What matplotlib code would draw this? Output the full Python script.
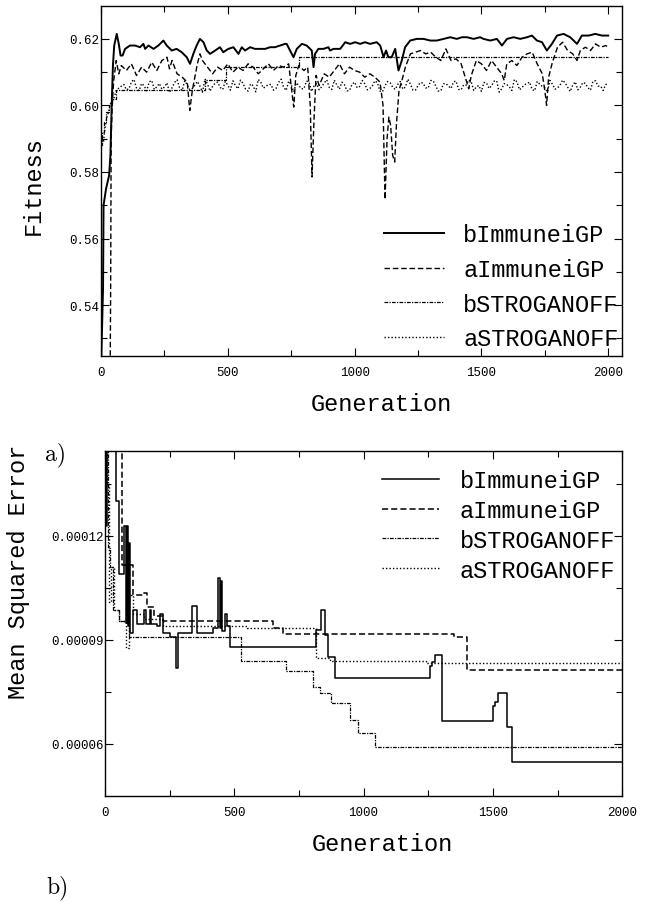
import matplotlib
matplotlib.use("Agg")
import matplotlib.pyplot as plt
import numpy as np
from matplotlib.ticker import FixedLocator, FormatStrFormatter

MONO = "Liberation Mono"

# ---- a) fitness -------------------------------------------------------
bimm_gen = [0, 8, 10, 20, 32, 37, 42, 47, 52, 62, 70, 77, 85, 95, 114, 134, 154, 167,
            174, 187, 207, 226, 246, 259, 279, 298, 318, 338, 351, 364, 377, 390, 404,
            417, 430, 450, 469, 482, 502, 522, 542, 555, 568, 588, 607, 627, 647, 667,
            686, 706, 726, 732, 752, 759, 772, 792, 811, 831, 838, 844, 857, 877, 897,
            903, 917, 943, 963, 982, 1002, 1022, 1041, 1061, 1087, 1101, 1114, 1124,
            1133, 1146, 1160, 1173, 1186, 1199, 1219, 1245, 1272, 1298, 1324, 1351,
            1377, 1403, 1423, 1443, 1469, 1495, 1508, 1535, 1561, 1581, 1601, 1627,
            1653, 1680, 1699, 1719, 1739, 1758, 1778, 1798, 1824, 1850, 1877, 1896,
            1923, 1949, 1975, 2000]
bimm_fit = [0.521, 0.545, 0.570, 0.575, 0.579, 0.585, 0.600, 0.612, 0.618, 0.6215,
            0.6185, 0.615, 0.615, 0.617, 0.618, 0.618, 0.6175, 0.6185, 0.617, 0.618,
            0.617, 0.618, 0.6195, 0.618, 0.6165, 0.617, 0.616, 0.6145, 0.6125, 0.6155,
            0.618, 0.620, 0.619, 0.6165, 0.6155, 0.6165, 0.6175, 0.616, 0.617, 0.6175,
            0.6155, 0.6175, 0.6165, 0.6175, 0.617, 0.617, 0.617, 0.6175, 0.6175, 0.618,
            0.6185, 0.6185, 0.6155, 0.6145, 0.617, 0.6185, 0.618, 0.6165, 0.6115, 0.6155,
            0.617, 0.617, 0.6175, 0.6165, 0.617, 0.617, 0.619, 0.6185, 0.619, 0.6185,
            0.619, 0.6185, 0.619, 0.618, 0.6145, 0.6165, 0.6145, 0.6145, 0.617, 0.6105,
            0.6135, 0.6175, 0.6195, 0.620, 0.620, 0.6195, 0.6195, 0.620, 0.6205, 0.620,
            0.6205, 0.6205, 0.620, 0.6205, 0.620, 0.6195, 0.620, 0.618, 0.620, 0.6205,
            0.620, 0.6205, 0.621, 0.6195, 0.619, 0.6165, 0.6185, 0.621, 0.6215, 0.6205,
            0.6185, 0.621, 0.621, 0.6215, 0.621, 0.621]

aimm_gen = [0, 36, 38, 40, 44, 50, 60, 70, 80, 100, 120, 140, 160, 180, 200, 220, 240,
            260, 270, 280, 300, 320, 340, 350, 360, 380, 390, 400, 420, 440, 460, 480,
            500, 520, 540, 560, 580, 600, 620, 640, 660, 680, 700, 720, 740, 755, 760,
            768, 780, 800, 815, 825, 832, 840, 848, 860, 880, 900, 920, 940, 960, 980,
            1000, 1020, 1040, 1060, 1080, 1100, 1112, 1120, 1128, 1135, 1142, 1150, 1158,
            1165, 1175, 1190, 1200, 1220, 1240, 1260, 1280, 1300, 1320, 1340, 1360, 1380,
            1400, 1420, 1440, 1450, 1460, 1480, 1500, 1520, 1540, 1560, 1580, 1590, 1600,
            1620, 1640, 1660, 1680, 1700, 1720, 1740, 1750, 1757, 1765, 1780, 1800, 1820,
            1840, 1860, 1877, 1890, 1910, 1930, 1950, 1970, 1990, 2000]
aimm_fit = [0.52, 0.52, 0.545, 0.59, 0.600, 0.6075, 0.6135, 0.6095, 0.612, 0.6105,
            0.6125, 0.609, 0.6115, 0.610, 0.613, 0.6105, 0.6135, 0.6145, 0.611, 0.6135,
            0.6095, 0.6085, 0.607, 0.5985, 0.6045, 0.6125, 0.6155, 0.6135, 0.6115, 0.6095,
            0.6115, 0.6105, 0.6125, 0.610, 0.6115, 0.6105, 0.6125, 0.6115, 0.6095, 0.611,
            0.6125, 0.6105, 0.612, 0.6115, 0.6125, 0.6025, 0.5995, 0.609, 0.612, 0.6105,
            0.6115, 0.600, 0.5785, 0.596, 0.609, 0.606, 0.6095, 0.6085, 0.6105, 0.6125,
            0.6095, 0.6115, 0.6105, 0.610, 0.6085, 0.6095, 0.6085, 0.607, 0.600, 0.5718,
            0.590, 0.5965, 0.594, 0.585, 0.583, 0.5945, 0.6045, 0.6085, 0.6115, 0.6155,
            0.616, 0.6165, 0.6155, 0.616, 0.6145, 0.6135, 0.617, 0.6135, 0.614, 0.6125,
            0.6075, 0.605, 0.609, 0.6135, 0.6125, 0.6105, 0.6135, 0.6115, 0.6095, 0.6075,
            0.6125, 0.6135, 0.612, 0.6145, 0.6155, 0.616, 0.6125, 0.6095, 0.6045, 0.600,
            0.6085, 0.613, 0.6175, 0.619, 0.6165, 0.6155, 0.6135, 0.6165, 0.6175, 0.6165,
            0.6185, 0.6175, 0.618, 0.6175]

bstr_gen = [0, 5, 12, 20, 30, 45, 60, 410, 494, 780, 2000]
bstr_fit = [0.588, 0.592, 0.595, 0.598, 0.600, 0.602, 0.6045, 0.6075, 0.6115, 0.6145, 0.6145]

astr_gen_early = [0, 5, 10, 15, 20, 25, 30, 35, 40, 50, 60, 70]
astr_fit_early = [0.586, 0.590, 0.589, 0.593, 0.595, 0.597, 0.598, 0.600, 0.601, 0.602,
                  0.6045, 0.6052]
# values read every 20 generations from 80 ...
astr_fit_even = [
    0.6058, 0.6047, 0.6071, 0.6052, 0.6066, 0.6044, 0.6075, 0.6056, 0.6049, 0.6068,
    0.6053, 0.6077, 0.6045, 0.6062, 0.6051, 0.6072, 0.6040, 0.6064, 0.6057, 0.6070,
    0.6048, 0.6061, 0.6074, 0.6050, 0.6066, 0.6043, 0.6059, 0.6078, 0.6052, 0.6063,
    0.6046, 0.6069, 0.6055, 0.6073, 0.6041, 0.6060, 0.6050, 0.6071, 0.6058, 0.6047,
    0.6067, 0.6054, 0.6076, 0.6049, 0.6062, 0.6045, 0.6070, 0.6057, 0.6065, 0.6051,
    0.6074, 0.6043, 0.6060, 0.6068, 0.6048, 0.6072, 0.6055, 0.6064, 0.6046, 0.6069,
    0.6053, 0.6075, 0.6058, 0.6044, 0.6066, 0.6051, 0.6073, 0.6047, 0.6061, 0.6070,
    0.6056, 0.6042, 0.6068, 0.6059, 0.6074, 0.6050, 0.6063, 0.6045, 0.6071, 0.6054,
    0.6066, 0.6048, 0.6072, 0.6057, 0.6040, 0.6064, 0.6052, 0.6076, 0.6055, 0.6061,
    0.6047, 0.6069, 0.6053, 0.6073, 0.6058, 0.6045, 0.6064]
# ... and in between, from 90
astr_fit_odd = [
    0.6063, 0.6050, 0.6078, 0.6044, 0.6059, 0.6071, 0.6048, 0.6066, 0.6055, 0.6039,
    0.6069, 0.6052, 0.6074, 0.6047, 0.6061, 0.6058, 0.6080, 0.6043, 0.6067, 0.6054,
    0.6072, 0.6046, 0.6060, 0.6076, 0.6049, 0.6065, 0.6041, 0.6070, 0.6057, 0.6063,
    0.6051, 0.6079, 0.6045, 0.6062, 0.6068, 0.6050, 0.6073, 0.6042, 0.6066, 0.6056,
    0.6077, 0.6048, 0.6061, 0.6070, 0.6044, 0.6064, 0.6053, 0.6075, 0.6047, 0.6059,
    0.6068, 0.6041, 0.6072, 0.6055, 0.6063, 0.6049, 0.6079, 0.6046, 0.6060, 0.6067,
    0.6052, 0.6074, 0.6043, 0.6065, 0.6058, 0.6071, 0.6048, 0.6062, 0.6077, 0.6045,
    0.6060, 0.6069, 0.6051, 0.6073, 0.6040, 0.6066, 0.6056, 0.6078, 0.6047, 0.6062,
    0.6070, 0.6044, 0.6064, 0.6053, 0.6075, 0.6049, 0.6061, 0.6068, 0.6042, 0.6071,
    0.6055, 0.6066, 0.6046, 0.6074, 0.6058, 0.6063]

mid_gen = np.array(list(range(80, 2001, 20)) + list(range(90, 1991, 20)))
mid_fit = np.array(astr_fit_even + astr_fit_odd)
order = np.argsort(mid_gen)
astr_gen = np.concatenate([astr_gen_early, mid_gen[order]])
astr_fit = np.concatenate([astr_fit_early, mid_fit[order]])

# ---- b) mean squared error (best so far, step curves) -----------------
bimm_mse_gen = [0, 4, 6, 43, 55, 75, 80, 84, 88, 92, 96, 110, 122, 150, 157, 172, 178,
                200, 213, 226, 251, 275, 284, 335, 355, 419, 438, 444, 447, 451, 464,
                472, 484, 815, 835, 851, 861, 889, 1257, 1266, 1277, 1302, 1500, 1510,
                1521, 1554, 1574, 2000]
bimm_mse = [16e-5, 12.3e-5, 16e-5, 13e-5, 10.9e-5, 12.3e-5, 9.5e-5, 12.3e-5, 9.4e-5,
            11.8e-5, 9.2e-5, 9.87e-5, 9.46e-5, 9.87e-5, 9.46e-5, 9.87e-5, 9.46e-5,
            9.4e-5, 9.75e-5, 9.2e-5, 9.09e-5, 8.19e-5, 9.2e-5, 9.99e-5, 9.21e-5, 9.35e-5,
            10.8e-5, 9.35e-5, 10.7e-5, 9.25e-5, 9.75e-5, 9.4e-5, 8.79e-5, 9.3e-5, 9.87e-5,
            9.15e-5, 8.5e-5, 7.9e-5, 8.24e-5, 8.35e-5, 8.58e-5, 6.67e-5, 7.09e-5, 7.2e-5,
            7.47e-5, 6.48e-5, 5.48e-5, 5.48e-5]

aimm_mse_gen = [0, 64, 110, 148, 161, 190, 226, 650, 690, 1351, 1401, 2000]
aimm_mse = [16e-5, 11.17e-5, 10.3e-5, 10.35e-5, 9.95e-5, 9.7e-5, 9.56e-5, 9.35e-5,
            9.17e-5, 9.08e-5, 8.14e-5, 8.14e-5]

bstr_mse_gen = [0, 12, 20, 30, 55, 93, 526, 700, 803, 830, 872, 946, 977, 1046, 2000]
bstr_mse = [16e-5, 11.65e-5, 11.1e-5, 9.87e-5, 9.56e-5, 9.08e-5, 8.39e-5, 8.1e-5,
            7.64e-5, 7.47e-5, 7.18e-5, 6.7e-5, 6.32e-5, 5.91e-5, 5.91e-5]

astr_mse_gen = [0, 8, 14, 22, 35, 55, 82, 93, 110, 150, 225, 550, 815, 870, 1240, 2000]
astr_mse = [16e-5, 13.5e-5, 10.1e-5, 11.1e-5, 9.87e-5, 9.56e-5, 8.77e-5, 10.3e-5,
            9.75e-5, 9.6e-5, 9.4e-5, 9.33e-5, 8.48e-5, 8.4e-5, 8.34e-5, 8.34e-5]

labels = ["bImmuneiGP", "aImmuneiGP", "bSTROGANOFF", "aSTROGANOFF"]

styles = [dict(linestyle="-"),
          dict(linestyle=(0, (4, 2))),
          dict(linestyle=(0, (3, 1, 1, 1))),
          dict(linestyle=(0, (1, 1.5)))]

fig = plt.figure(figsize=(6.69, 9.03), dpi=100)
ax1 = fig.add_axes([0.151, 0.6047, 0.779, 0.3876])
ax2 = fig.add_axes([0.157, 0.1174, 0.773, 0.3821])

ax1.plot(bimm_gen, bimm_fit, color="black", lw=1.4, **styles[0])
ax1.plot(aimm_gen, aimm_fit, color="black", lw=1.0, **styles[1])
ax1.plot(bstr_gen, bstr_fit, color="black", lw=0.9, drawstyle="steps-post", **styles[2])
ax1.plot(astr_gen, astr_fit, color="black", lw=1.0, **styles[3])

ax2.plot(bimm_mse_gen, bimm_mse, color="black", lw=1.1, drawstyle="steps-post", **styles[0])
ax2.plot(aimm_mse_gen, aimm_mse, color="black", lw=1.1, drawstyle="steps-post", **styles[1])
ax2.plot(bstr_mse_gen, bstr_mse, color="black", lw=0.9, drawstyle="steps-post", **styles[2])
ax2.plot(astr_mse_gen, astr_mse, color="black", lw=1.0, drawstyle="steps-post", **styles[3])

ax1.set_xlim(0, 2055)
ax1.set_ylim(0.5247, 0.6299)
ax2.set_xlim(0, 2000)
ax2.set_ylim(4.5e-5, 14.45e-5)

ax1.yaxis.set_major_locator(FixedLocator([0.54, 0.56, 0.58, 0.60, 0.62]))
ax1.yaxis.set_minor_locator(FixedLocator([0.53, 0.55, 0.57, 0.59, 0.61]))
ax1.yaxis.set_major_formatter(FormatStrFormatter("%.2f"))
ax2.yaxis.set_major_locator(FixedLocator([6e-5, 9e-5, 12e-5]))
ax2.yaxis.set_minor_locator(FixedLocator([7.5e-5, 10.5e-5, 13.5e-5]))
ax2.yaxis.set_major_formatter(FormatStrFormatter("%.5f"))
for ax in (ax1, ax2):
    ax.xaxis.set_major_locator(FixedLocator([0, 500, 1000, 1500, 2000]))
    ax.xaxis.set_minor_locator(FixedLocator([250, 750, 1250, 1750]))
    ax.xaxis.set_major_formatter(FormatStrFormatter("%d"))
    ax.tick_params(which="both", direction="in", top=True, right=True, width=0.8)
    ax.tick_params(which="major", length=6)
    ax.tick_params(which="minor", length=4)
    ax.tick_params(axis="x", pad=7)
    ax.tick_params(axis="y", pad=1)
    for lab in ax.get_xticklabels() + ax.get_yticklabels():
        lab.set_fontfamily(MONO)
        lab.set_fontsize(9)
    for sp in ax.spines.values():
        sp.set_linewidth(1.0)

lab_font = dict(fontfamily=MONO, fontsize=17)
ax1.set_xlabel("Generation", **lab_font)
ax1.set_ylabel("Fitness", **lab_font)
ax1.xaxis.set_label_coords(0.537, -0.103)
ax1.yaxis.set_label_coords(-0.1075, 0.491)
ax2.set_xlabel("Generation", **lab_font)
ax2.set_ylabel("Mean Squared Error", **lab_font)
ax2.xaxis.set_label_coords(0.536, -0.104)
ax2.yaxis.set_label_coords(-0.145, 0.652)

leg_prop = dict(family=MONO, size=17)
handles1 = ax1.get_lines()
ax1.legend(handles1, labels, loc="upper left", bbox_to_anchor=(384 / 669, 1 - 224 / 903),
           bbox_transform=fig.transFigure, frameon=False, prop=leg_prop,
           handlelength=2.55, handletextpad=0.8, labelspacing=0.5,
           borderpad=0, borderaxespad=0)
handles2 = ax2.get_lines()
ax2.legend(handles2, labels, loc="upper left", bbox_to_anchor=(382 / 669, 1 - 470 / 903),
           bbox_transform=fig.transFigure, frameon=False, prop=leg_prop,
           handlelength=2.4, handletextpad=0.9, labelspacing=0.29,
           borderpad=0, borderaxespad=0)

fig.text(56 / 669, 1 - 455 / 903, "a)", fontfamily="cmr10", fontsize=17, ha="center", va="center")
fig.text(57 / 669, 1 - 888 / 903, "b)", fontfamily="cmr10", fontsize=17, ha="center", va="center")

fig.savefig("out.png", dpi=100)
